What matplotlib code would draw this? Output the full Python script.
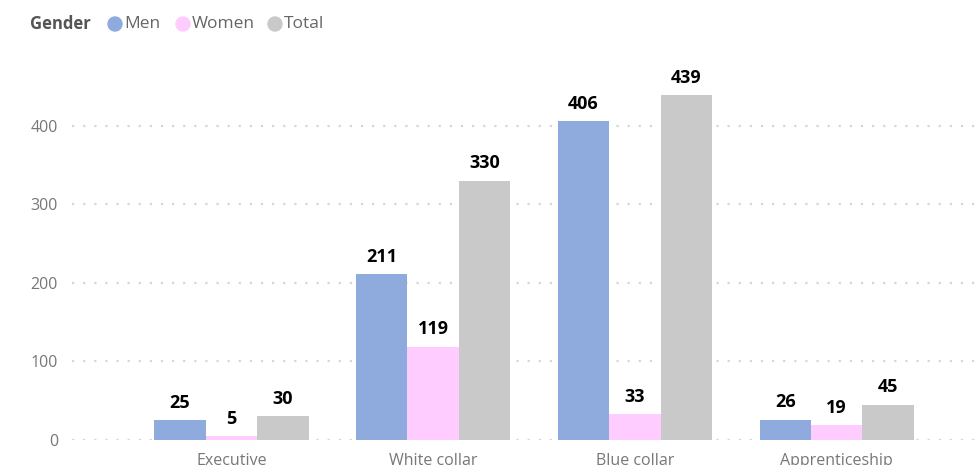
import matplotlib
matplotlib.use("Agg")
import matplotlib.pyplot as plt
from matplotlib.patches import Ellipse
import numpy as np

categories = ["Executive", "White collar", "Blue collar", "Apprenticeship"]
men = [25, 211, 406, 26]
women = [5, 119, 33, 19]
total = [30, 330, 439, 45]
series_names = ["Men", "Women", "Total"]
series_colors = ["#8FAADC", "#FFCCFF", "#C9C9C9"]
yticks = [0, 100, 200, 300, 400]

plt.rcParams["font.family"] = ["Open Sans", "DejaVu Sans"]

fig = plt.figure(figsize=(9.8, 4.65), dpi=100)
W, H = 980, 465
ax = fig.add_axes([72 / W, 1 - 440 / H, (980 - 72) / W, (440 - 63) / H])

x = np.arange(len(categories))
bw = 0.255
for i, (vals, color) in enumerate(zip([men, women, total], series_colors)):
    pos = x + (i - 1) * bw
    bars = ax.bar(pos, vals, width=bw, color=color, zorder=3)
    for b, v in zip(bars, vals):
        ax.annotate(str(v), (b.get_x() + b.get_width() / 2, v),
                    xytext=(0, 6), textcoords="offset points",
                    ha="center", va="bottom", fontsize=13, fontweight="bold",
                    color="#000000")

ax.set_xlim(-0.79, 3.71)
ax.set_ylim(0, 480)
ax.set_yticks(yticks)
ax.set_yticklabels([str(t) for t in yticks])
ax.set_xticks(x)
ax.set_xticklabels(categories)
ax.tick_params(axis="both", length=0, colors="#777777")
ax.tick_params(axis="y", pad=10, labelsize=11.5)
ax.tick_params(axis="x", pad=9, labelsize=11.5)
ax.yaxis.grid(True, linestyle=(0, (1, 4)), color="#D6D6D6", linewidth=1.6, zorder=0)
for s in ax.spines.values():
    s.set_visible(False)

# legend row
fig.text(30 / W, 1 - 24 / H, "Gender", fontsize=12, fontweight="bold",
         color="#555555", va="center", ha="left")
lx = [115, 183, 275]
for name, color, px in zip(series_names, series_colors, lx):
    fig.patches.append(Ellipse((px / W, 1 - 24 / H), 14 / W, 14 / H,
                               transform=fig.transFigure, color=color, figure=fig))
    fig.text((px + 9) / W, 1 - 24 / H, name, fontsize=12.5, color="#666666",
             va="center", ha="left")

fig.savefig("out.png", dpi=100)
